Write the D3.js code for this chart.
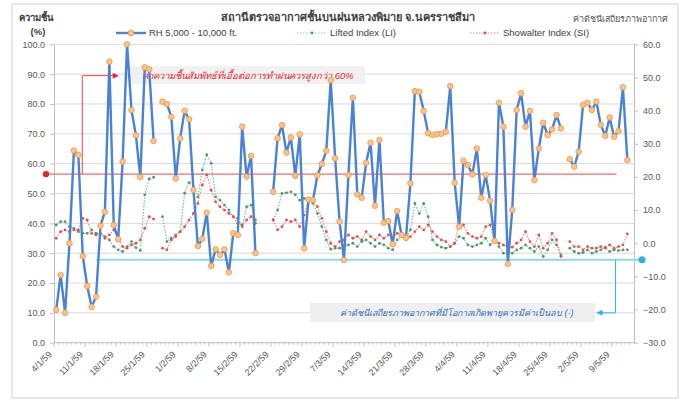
<!DOCTYPE html>
<html>
<head>
<meta charset="utf-8">
<script src="https://cdn.jsdelivr.net/npm/d3@7"></script>
<style>
  body { margin: 0; background: #fff; }
  svg text { font-family: "Liberation Sans", "DejaVu Sans", sans-serif; }
</style>
</head>
<body>
<svg id="chart" width="686" height="401"></svg>
<script>
// categories: one per day, 4 Jan 2016 (2559) .. 13 May 2016
const firstDay = new Date(2016, 0, 4);
const lastDay = new Date(2016, 4, 13);
const tickLabels = ["4/1/59", "11/1/59", "18/1/59", "25/1/59", "1/2/59", "8/2/59", "15/2/59",
  "22/2/59", "29/2/59", "7/3/59", "14/3/59", "21/3/59", "28/3/59", "4/4/59", "11/4/59",
  "18/4/59", "25/4/59", "2/5/59", "9/5/59"];
const leftTicks = [0, 10, 20, 30, 40, 50, 60, 70, 80, 90, 100];
const rightTicks = [-30, -20, -10, 0, 10, 20, 30, 40, 50, 60];

// RH 5,000 - 10,000 ft. (%), left axis
const rh = [11, 22.7, 10, 33.3, 64.4, 62.9, 29, 19, 12, 15.4,
  39.2, 43.9, 94.2, 39.4, 34.7, 60.7, 100, 78, 69.5, 55.5,
  92.3, 91.6, 67.6, null, 80.8, 80, 75.7, 55, 68.5, 77.7,
  74.9, 51.2, 32.4, 34.8, 43.6, 25.7, 31.3, 29.4, 31.3, 23.6,
  36.7, 36.1, 72.4, 55.6, 62.6, 30, null, null, null, 50.6,
  68.5, 72.9, 63.7, 68.8, 55.9, 69.8, 31.6, 48, 47.8, 56.1,
  59.9, 64.3, 88, 61.8, 40.6, 27.7, 56.2, 82.1, 49.7, 48.6,
  60.3, 67, 45.9, 67.9, 40.2, 40.8, 33, 44.1, 36.1, 35.2,
  53.4, 84.3, 84.1, 77.7, 70.2, 69.6, 69.9, 70, 70.7, 86,
  53.6, 38.9, 61, 59.5, 56.4, 65.1, 48.6, 56.2, 47.6, 34.1,
  80.4, 72.4, 26.4, 44.5, 78, 83.6, 72.4, 77.7, 54.5, 65.1,
  73.7, 69.6, 71.5, 76.3, 71.8, null, 61.5, 59, 64, 79.7,
  80.4, 78, 80.8, 73, 69.3, 75.5, 69, 70.9, 85.6, 61.2,
  null];

// Lifted Index (LI), right axis
const li = [5.5, 6.5, 6.5, 5, 4.5, 3.5, 3, 3, 4, 3,
  3, 2, 1, -1, -2, -2.5, -1, 0.5, -1.3, -2.2,
  14.6, 19.4, 19.9, null, 8, 0.5, 1.5, 2.5, 3.5, 15.1,
  18.3, 17.1, 14, 22.1, 26.7, 24.1, 14, 13, 11.5, 10,
  8, 7.5, 5, 11, 11.5, 7, null, null, null, 7,
  10, 15, 15.2, 15.5, 14.6, 13, 13.5, 13, 12, 9,
  5, 1, -1.8, -1.5, -1.5, -1, -0.5, 0, -1, 0.5,
  1, 0, -1, 0, -0.5, -1.5, -2, 1, 2, 1,
  4, 12, 9, 12, 8, 1, -0.5, -1.2, -1.5, -1,
  0, 2, 1.5, -0.5, -1, -0.5, 0, 1.5, -0.5, 1,
  -1, -3, -3, -3, -2, -1.5, -0.5, -1.5, -2.5, -1,
  -4, -2, 1, -0.5, -3.5, null, -1.5, -2.5, -3, -2.8,
  -2, -3, -2.5, -2, -1.2, -2.5, -2, -2.2, -2, -2,
  null];

// Showalter Index (SI), right axis
const si = [1.5, 3.5, 4, 3.5, 4, 4, 7.5, 7, 3, 2.5,
  2.8, 1.5, 2.5, 4, 2, -1, -1.5, -0.5, 0, 1,
  4.5, 8, 7.3, null, -1.5, -2, 1, 2, 3.5, 5,
  7, 9, 12, 17.6, 20.6, 16, 12.5, 11, 10, 9,
  8, 6, 5.5, 7, 8, 6, null, null, null, 7,
  4, 5, 7, 6.5, 7, 5, 8.5, 13.5, 13, 11,
  7.5, 3.5, 0, -1, 0.5, 1, 2.5, 1.5, 2, 1,
  3.5, 2, 1, 2.5, 1.5, 2.5, 1, 3, 2, 1.5,
  2, 3.5, 5, 4, 5.5, 3.5, 2, 1, 0.5, -1,
  0, 6, 5.5, 3, 2, 1.5, 2, 5, 5.5, 0.5,
  0, -0.5, -1, -1.2, 0, 1, 3.5, 0.5, -1, 2.5,
  -1.5, 0, 3, 1, -4, null, 0.5, -1, -1, -2,
  -1, -1.5, -1.5, -1, -1.5, -0.5, -1.5, -1, -0.5, 2.8,
  null];

const rhThreshold = 56.5;   // red guide line, left axis
const indexThreshold = -5;  // cyan guide line, right axis

const svg = d3.select("#chart");
const margin = { left: 54, right: 634, top: 44.3, bottom: 342.7 };

const days = d3.timeDay.range(firstDay, d3.timeDay.offset(lastDay, 1));
const fmt = (d) => `${d.getDate()}/${d.getMonth() + 1}/59`;
const cats = days.map(fmt);

const x = d3.scaleBand().domain(cats).range([margin.left, margin.right]);
const cx = (i) => x(cats[i]) + x.bandwidth() / 2;
const yL = d3.scaleLinear().domain([0, 100]).range([margin.bottom, margin.top]);
const yR = d3.scaleLinear().domain([-30, 60]).range([margin.bottom, margin.top]);

// chart frame
svg.append("rect")
  .attr("x", 12).attr("y", 4).attr("width", 666).attr("height", 394)
  .attr("fill", "#fff").attr("stroke", "#d0d0d0");

// gridlines
svg.append("g")
  .selectAll("line")
  .data(leftTicks.slice(1))
  .join("line")
  .attr("x1", margin.left).attr("x2", margin.right)
  .attr("y1", (d) => yL(d)).attr("y2", (d) => yL(d))
  .attr("stroke", "#d9d9d9");

// axes
const leftAxis = svg.append("g")
  .attr("transform", `translate(${margin.left},0)`)
  .call(d3.axisLeft(yL).tickValues(leftTicks).tickFormat(d3.format(".1f")).tickSize(4).tickSizeOuter(0));
const rightAxis = svg.append("g")
  .attr("transform", `translate(${margin.right},0)`)
  .call(d3.axisRight(yR).tickValues(rightTicks).tickFormat(d3.format(".1f")).tickSize(4).tickSizeOuter(0));
[leftAxis, rightAxis].forEach((g) => {
  g.select(".domain").attr("stroke", "#bfbfbf");
  g.selectAll(".tick line").attr("stroke", "#bfbfbf");
  g.selectAll(".tick text").attr("fill", "#595959").style("font-size", "9px");
});
leftAxis.selectAll(".tick text").attr("x", -9);
rightAxis.selectAll(".tick text").attr("x", 9);

// bottom axis with a small tick per day and a longer one every week
const bottom = svg.append("g");
bottom.append("line")
  .attr("x1", margin.left).attr("x2", margin.right)
  .attr("y1", margin.bottom).attr("y2", margin.bottom)
  .attr("stroke", "#bfbfbf");
bottom.selectAll("line.minor")
  .data(cats)
  .join("line")
  .attr("class", "minor")
  .attr("x1", (d) => x(d)).attr("x2", (d) => x(d))
  .attr("y1", margin.bottom).attr("y2", (d, i) => margin.bottom + (i % 7 === 0 ? 4 : 2))
  .attr("stroke", "#bfbfbf");
bottom.selectAll("text")
  .data(tickLabels)
  .join("text")
  .attr("transform", (d) => `translate(${x(d) + x.bandwidth() / 2 - 6},${margin.bottom + 10}) rotate(-45)`)
  .attr("text-anchor", "end")
  .attr("dy", "0.35em")
  .attr("fill", "#595959")
  .style("font-size", "9px")
  .text((d) => d);

// red guide for humidity
const redY = yL(rhThreshold);
svg.append("line")
  .attr("x1", margin.left - 8).attr("x2", cx(127) - 2)
  .attr("y1", redY).attr("y2", redY)
  .attr("stroke", "#e8474c").attr("stroke-width", 1);
svg.append("circle").attr("cx", margin.left - 8).attr("cy", redY).attr("r", 3.2).attr("fill", "#e8242c");
svg.append("path")
  .attr("d", `M${cx(6) - 0.5},${redY} V${yL(89.5)} H${cx(13)}`)
  .attr("fill", "none").attr("stroke", "#e8474c");
svg.append("path")
  .attr("d", `M${cx(13) + 5},${yL(89.5)} l-6,-3 v6 z`)
  .attr("fill", "#e8242c");

// cyan guide for stability index
const cyanY = yR(indexThreshold);
svg.append("line")
  .attr("x1", cx(9)).attr("x2", margin.right + 8)
  .attr("y1", cyanY).attr("y2", cyanY)
  .attr("stroke", "#8fd6ea").attr("stroke-width", 2);
svg.append("circle").attr("cx", margin.right + 8).attr("cy", cyanY).attr("r", 3.5).attr("fill", "#29b4e6");
svg.append("path")
  .attr("d", `M${cx(126) + 1.5},${cyanY} V${yR(-21)} H${cx(123)}`)
  .attr("fill", "none").attr("stroke", "#29b4e6");
svg.append("path")
  .attr("d", `M${cx(122)},${yR(-21)} l6,-3 v6 z`)
  .attr("fill", "#29b4e6");

// annotation boxes
svg.append("rect").attr("x", 125).attr("y", 66).attr("width", 240).attr("height", 18).attr("fill", "#efefef").attr("opacity", 0.85);
svg.append("text").attr("x", 142).attr("y", 79)
  .attr("fill", "#e8242c").style("font-size", "9.5px").style("font-style", "italic")
  .text("ค่าความชื้นสัมพัทธ์ที่เอื้อต่อการทำฝนควรสูงกว่า 60%");
svg.append("rect").attr("x", 310).attr("y", 303).attr("width", 285).attr("height", 19).attr("fill", "#efefef");
svg.append("text").attr("x", 340).attr("y", 316)
  .attr("fill", "#2e6fb8").style("font-size", "9px").style("font-style", "italic")
  .text("ค่าดัชนีเสถียรภาพอากาศที่มีโอกาสเกิดพายุควรมีค่าเป็นลบ (-)");

// series
const lineL = d3.line().defined((d) => d != null).x((d, i) => cx(i)).y((d) => yL(d));
const lineR = d3.line().defined((d) => d != null).x((d, i) => cx(i)).y((d) => yR(d));

svg.append("path").datum(li).attr("d", lineR)
  .attr("fill", "none").attr("stroke", "#76bca6").attr("stroke-width", 1.2).attr("stroke-dasharray", "1.5,1.5");
svg.append("g").selectAll("circle")
  .data(li.map((v, i) => [v, i]).filter((d) => d[0] != null))
  .join("circle").attr("cx", (d) => cx(d[1])).attr("cy", (d) => yR(d[0])).attr("r", 1.4).attr("fill", "#4f9a64");

svg.append("path").datum(si).attr("d", lineR)
  .attr("fill", "none").attr("stroke", "#e58b8b").attr("stroke-width", 1.2).attr("stroke-dasharray", "1.5,1.5");
svg.append("g").selectAll("circle")
  .data(si.map((v, i) => [v, i]).filter((d) => d[0] != null))
  .join("circle").attr("cx", (d) => cx(d[1])).attr("cy", (d) => yR(d[0])).attr("r", 1.4).attr("fill", "#d9534f");

svg.append("path").datum(rh).attr("d", lineL)
  .attr("fill", "none").attr("stroke", "#4a82d4").attr("stroke-width", 2.4).attr("stroke-linejoin", "round");
svg.append("g").selectAll("circle")
  .data(rh.map((v, i) => [v, i]).filter((d) => d[0] != null))
  .join("circle").attr("cx", (d) => cx(d[1])).attr("cy", (d) => yL(d[0])).attr("r", 2.8)
  .attr("fill", "#f9c490").attr("stroke", "#f0953f").attr("stroke-width", 0.8);

// titles
svg.append("text").attr("x", 348).attr("y", 21).attr("text-anchor", "middle")
  .attr("fill", "#404040").style("font-size", "11px").style("font-weight", "bold")
  .text("สถานีตรวจอากาศชั้นบนฝนหลวงพิมาย จ.นครราชสีมา");
svg.append("text").attr("x", 36).attr("y", 21).attr("text-anchor", "middle")
  .attr("fill", "#404040").style("font-size", "9.5px").style("font-weight", "bold").text("ความชื้น");
svg.append("text").attr("x", 38).attr("y", 35).attr("text-anchor", "middle")
  .attr("fill", "#404040").style("font-size", "9.5px").style("font-weight", "bold").text("(%)");
svg.append("text").attr("x", 668).attr("y", 22).attr("text-anchor", "end")
  .attr("fill", "#595959").style("font-size", "9px").text("ค่าดัชนีเสถียรภาพอากาศ");

// legend
const legend = svg.append("g").attr("transform", "translate(0,33)");
const items = [
  { x: 116, label: "RH 5,000 - 10,000 ft.", stroke: "#4a82d4", w: 2.4, dash: null, dot: "#f9c490", r: 2.8 },
  { x: 297, label: "Lifted Index (LI)", stroke: "#8ccbe0", w: 1.2, dash: "1.5,1.5", dot: "#4f9a64", r: 1.4 },
  { x: 470, label: "Showalter Index (SI)", stroke: "#e58b8b", w: 1.2, dash: "1.5,1.5", dot: "#d9534f", r: 1.4 },
];
items.forEach((it) => {
  legend.append("line").attr("x1", it.x).attr("x2", it.x + 30).attr("y1", 0).attr("y2", 0)
    .attr("stroke", it.stroke).attr("stroke-width", it.w).attr("stroke-dasharray", it.dash);
  legend.append("circle").attr("cx", it.x + 15).attr("cy", 0).attr("r", it.r)
    .attr("fill", it.dot).attr("stroke", it.r > 2 ? "#f0953f" : null);
  legend.append("text").attr("x", it.x + 33).attr("y", 0).attr("dy", "0.35em")
    .attr("fill", "#404040").style("font-size", "9.5px").text(it.label);
});
</script>
</body>
</html>
